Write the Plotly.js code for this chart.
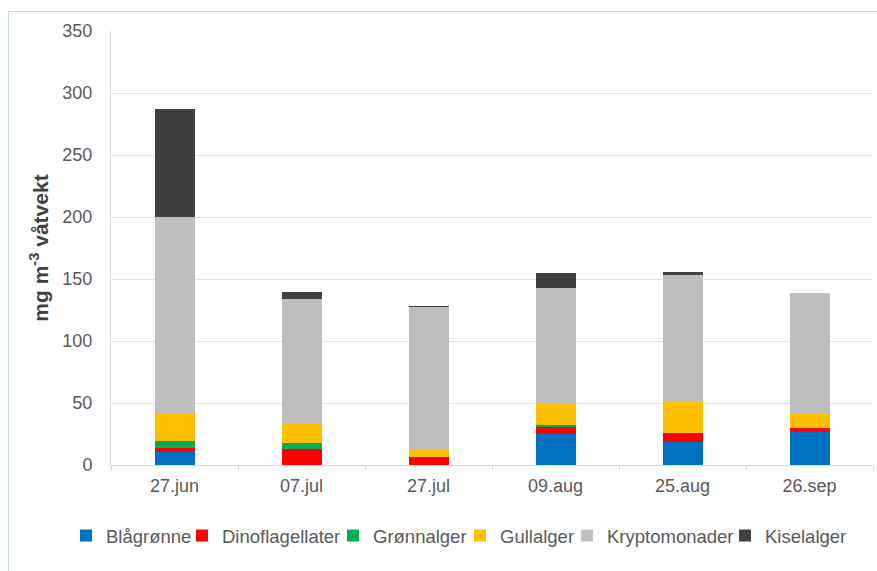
<!DOCTYPE html>
<html>
<head>
<meta charset="utf-8">
<script src="https://cdn.plot.ly/plotly-3.0.1.min.js"></script>
<style>
  html, body { margin: 0; padding: 0; background: #fff; }
  #chart { width: 877px; height: 571px; position: absolute; left: 0; top: 0; }
  #frame { position: absolute; left: 8px; top: 11px; width: 877px; height: 571px;
           border-left: 1px solid #c9dcef; border-top: 1px solid #c9dcef; pointer-events: none; }
</style>
</head>
<body>
<div id="chart"></div>
<div id="frame"></div>
<script>
// Sampling dates
const dates = ["27.jun", "07.jul", "27.jul", "09.aug", "25.aug", "26.sep"];

// Biomass per algal group (mg m-3 wet weight)
const blagronne       = [10.7, 0,    0,    25.3, 18.8, 26.9];
const dinoflagellater = [2.7,  12.9, 6.2,  5.6,  7.3,  3.2];
const gronnalger      = [6.2,  4.6,  0,    1.6,  0,    0];
const gullalger       = [22.0, 16.6, 6.4,  17.2, 25.5, 11.3];
const kryptomonader   = [158.6, 99.5, 114.5, 92.8, 101.9, 97.6];
const kiselalger      = [87.3, 6.2,  1.4,  12.6, 2.1,  0];

const groups = [
  { name: "Blågrønne",       y: blagronne,       color: "#0070C0" },
  { name: "Dinoflagellater", y: dinoflagellater, color: "#FF0000" },
  { name: "Grønnalger",      y: gronnalger,      color: "#00B050" },
  { name: "Gullalger",       y: gullalger,       color: "#FFC000" },
  { name: "Kryptomonader",   y: kryptomonader,   color: "#BFBFBF" },
  { name: "Kiselalger",      y: kiselalger,      color: "#404040" }
];

// Left edge (px) of each legend label along the bottom row
const legendTextLeft = [107, 223, 374, 501, 608, 766];

const W = 877, H = 571;
const legendKey = i => (i === 0 ? "legend" : "legend" + (i + 1));

const traces = groups.map((g, i) => ({
  type: "bar",
  name: g.name,
  x: dates,
  y: g.y,
  legend: legendKey(i),
  marker: { color: g.color, line: { width: 0 } },
  width: 0.315,
  hoverinfo: "name+y"
}));

const layout = {
  width: W,
  height: H,
  barmode: "stack",
  paper_bgcolor: "#ffffff",
  plot_bgcolor: "#ffffff",
  margin: { l: 111, r: 4, t: 31, b: 106 },
  font: { family: "Liberation Sans, Arial, sans-serif", color: "#595959", size: 18 },
  xaxis: {
    type: "category",
    showgrid: false,
    showline: true,
    linecolor: "#d9d9d9",
    linewidth: 1,
    ticks: "outside",
    tickson: "boundaries",
    ticklen: 5,
    tickcolor: "#d9d9d9",
    ticklabelstandoff: 4,
    tickfont: { size: 18, color: "#595959" }
  },
  yaxis: {
    range: [0, 350],
    dtick: 50,
    showgrid: true,
    gridcolor: "#e3e3e3",
    gridwidth: 1,
    zeroline: false,
    showline: true,
    linecolor: "#d9d9d9",
    ticks: "",
    ticklabelstandoff: 14,
    tickfont: { size: 18, color: "#595959" },
    title: {
      text: "<b>mg m<sup>-3</sup> våtvekt</b>",
      font: { size: 21, color: "#404040" },
      standoff: 8
    }
  },
  showlegend: true
};

// One single-entry legend per group, laid out in a row under the plot
groups.forEach((g, i) => {
  layout[legendKey(i)] = {
    orientation: "h",
    xref: "container",
    yref: "container",
    x: (legendTextLeft[i] - 41) / W,
    xanchor: "left",
    y: 1 - 536 / H,
    yanchor: "middle",
    bgcolor: "rgba(0,0,0,0)",
    borderwidth: 0,
    itemwidth: 30,
    font: { size: 18.5, color: "#595959" }
  };
});

Plotly.newPlot("chart", traces, layout, { displayModeBar: false, staticPlot: true });
</script>
</body>
</html>
